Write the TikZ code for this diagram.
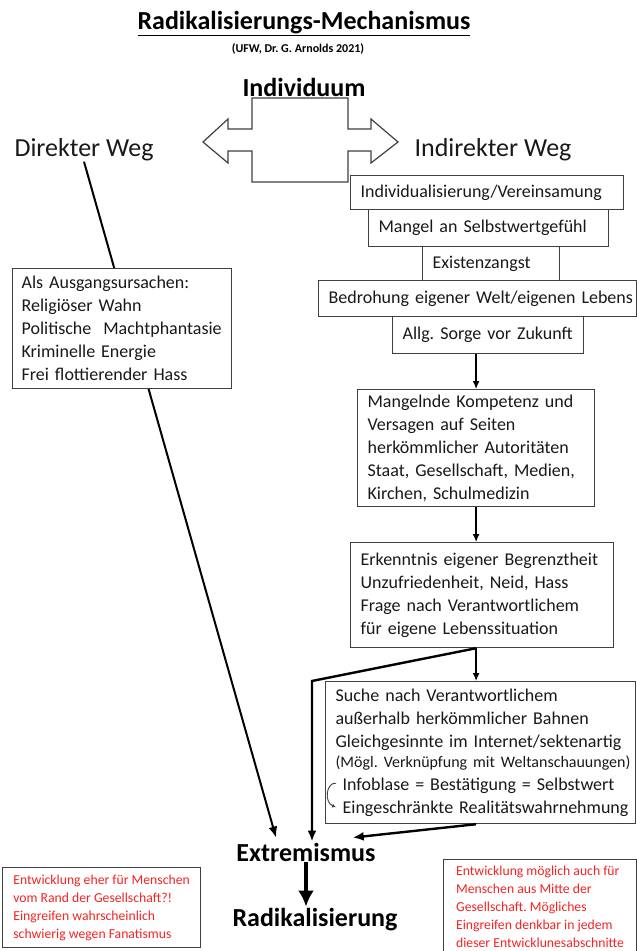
\documentclass[tikz,border=0pt]{standalone}
\usepackage{fontspec}
\setmainfont{Carlito}
\usetikzlibrary{arrows.meta}
\frenchspacing
\definecolor{rahmen}{RGB}{64,64,64}
\definecolor{schrift}{RGB}{25,25,25}
\definecolor{hinweis}{RGB}{245,35,35}
\tikzset{
  kasten/.style={draw=rahmen, line width=1.2pt, fill=white, text=schrift,
    font=\fontsize{18}{23}\selectfont, align=left, inner xsep=10pt, inner ysep=0pt, anchor=north west},
  hinweiskasten/.style={draw=rahmen, line width=1.2pt, fill=white, text=hinweis,
    font=\fontsize{13.7}{18}\selectfont, align=left, inner xsep=6pt, inner ysep=0pt, anchor=north west},
  weg/.style={font=\fontsize{26}{30}\selectfont, text=schrift, anchor=base, inner sep=1pt},
  stufe/.style={font=\bfseries\fontsize{26}{30}\selectfont, text=black, anchor=base, inner sep=1pt},
  pfeil/.style={line width=1.3pt, -{Latex[length=8pt,width=7pt]}},
  dickpfeil/.style={line width=2.4pt, -{Latex[length=11pt,width=9pt]}},
}
\begin{document}
\begin{tikzpicture}[x=1pt, y=-1pt]
  \useasboundingbox (0,0) rectangle (637,951);

  % Kopf
  \node[stufe] (titel) at (304,29) {\underline{Radikalisierungs-Mechanismus}};
  \node[anchor=base, font=\bfseries\fontsize{12}{14}\selectfont] (quelle) at (298,52) {(UFW, Dr. G. Arnolds 2021)};
  \node[stufe] (individuum) at (304,96) {Individuum};

  % Doppelpfeil
  \draw[rahmen, line width=1.2pt, fill=white] (252,98) -- (348,98) -- (348,129) -- (371,129) -- (371,119)
    -- (398,142) -- (371,163) -- (371,151) -- (348,151) -- (348,182) -- (252,182) -- (252,151)
    -- (228,151) -- (228,163) -- (203,142) -- (228,119) -- (228,129) -- (252,129) -- cycle;

  \node[weg] (direkt) at (84,156) {Direkter Weg};
  \node[weg] (indirekt) at (493,156) {Indirekter Weg};

  % Stufen
  \node[stufe] (extremismus) at (306,861) {Extremismus};
  \node[stufe] (radikal) at (315,926) {Radikalisierung};

  % direkter Weg
  \draw[dickpfeil, line width=2pt] (direkt.south) -- ([shift={(-30,-4)}]extremismus.north);
  \node[kasten, text width=201pt, inner xsep=9pt, minimum height=120pt] (ursachen) at (12,268)
    {Als Ausgangsursachen:\\Religiöser Wahn\\Politische~ Machtphantasie\\Kriminelle Energie\\Frei flottierender Hass};

  % indirekter Weg
  \node[kasten, text width=253pt, minimum height=34pt] (vereinsamung) at (350,175) {Individualisierung/Vereinsamung};
  \node[kasten, text width=220pt, minimum height=37pt] (selbstwert) at (368,209) {Mangel an Selbstwertgefühl};
  \node[kasten, text width=117pt, minimum height=34pt] (existenz) at (422,246) {Existenzangst};
  \node[kasten, text width=298pt, minimum height=36pt] (bedrohung) at (318,280) {\mbox{Bedrohung eigener Welt/eigenen Lebens}};
  \node[kasten, text width=171pt, minimum height=37pt] (sorge) at (392,316) {\mbox{Allg. Sorge vor Zukunft}};

  \node[kasten, text width=217pt, minimum height=117pt] (autoritaet) at (357,389)
    {Mangelnde Kompetenz und\\Versagen auf Seiten\\herkömmlicher Autoritäten\\Staat, Gesellschaft, Medien,\\Kirchen, Schulmedizin};
  \node[kasten, text width=243pt, minimum height=105pt] (begrenzt) at (350,542)
    {Erkenntnis eigener Begrenztheit\\Unzufriedenheit, Neid, Hass\\Frage nach Verantwortlichem\\für eigene Lebenssituation};
  \node[kasten, text width=290pt, minimum height=142pt] (suche) at (325,681)
    {Suche nach Verantwortlichem\\außerhalb herkömmlicher Bahnen\\\mbox{Gleichgesinnte im Internet/sektenartig}\\[-3pt]
     \mbox{\fontsize{16}{18}\selectfont (Mögl. Verknüpfung mit Weltanschauungen)}\\
     \hspace*{7pt}\mbox{Infoblase = Bestätigung = Selbstwert}\\
     \hspace*{7pt}\mbox{Eingeschränkte Realitätswahrnehmung}};
  \draw[rahmen, line width=0.9pt, -{Latex[length=4pt,width=4pt]}] ([shift={(11,-41)}]suche.south west)
    .. controls ([shift={(1,-42)}]suche.south west) and ([shift={(-1,-22)}]suche.south west) .. ([shift={(11,-17)}]suche.south west);

  \draw[pfeil] (sorge.south -| autoritaet.north) -- (autoritaet.north);
  \draw[pfeil] (autoritaet.south) -- (autoritaet.south |- begrenzt.north);
  \draw[pfeil] (autoritaet.south |- begrenzt.south) -- (autoritaet.south |- suche.north);

  \coordinate (knick) at (312,681);
  \draw[dickpfeil] (autoritaet.south |- begrenzt.south) -- (knick) -- (knick |- extremismus.north);
  \draw[dickpfeil] (suche.south -| autoritaet.south) -- ([shift={(-24,-4)}]extremismus.north east);
  \draw[line width=4pt, -{Latex[length=16pt,width=16pt]}] (extremismus.south) -- (extremismus.south |- radikal.north);

  % Hinweise
  \node[hinweiskasten, minimum width=198pt, minimum height=80pt] (rand) at (2,867)
    {Entwicklung eher für Menschen\\vom Rand der Gesellschaft?!\\Eingreifen wahrscheinlich\\schwierig wegen Fanatismus};
  \node[hinweiskasten, minimum width=193pt, minimum height=94pt] (mitte) at (443,859)
    {Entwicklung möglich auch für\\Menschen aus Mitte der\\Gesellschaft. Mögliches\\Eingreifen denkbar in jedem\\dieser Entwicklunesabschnitte};
\end{tikzpicture}
\end{document}
